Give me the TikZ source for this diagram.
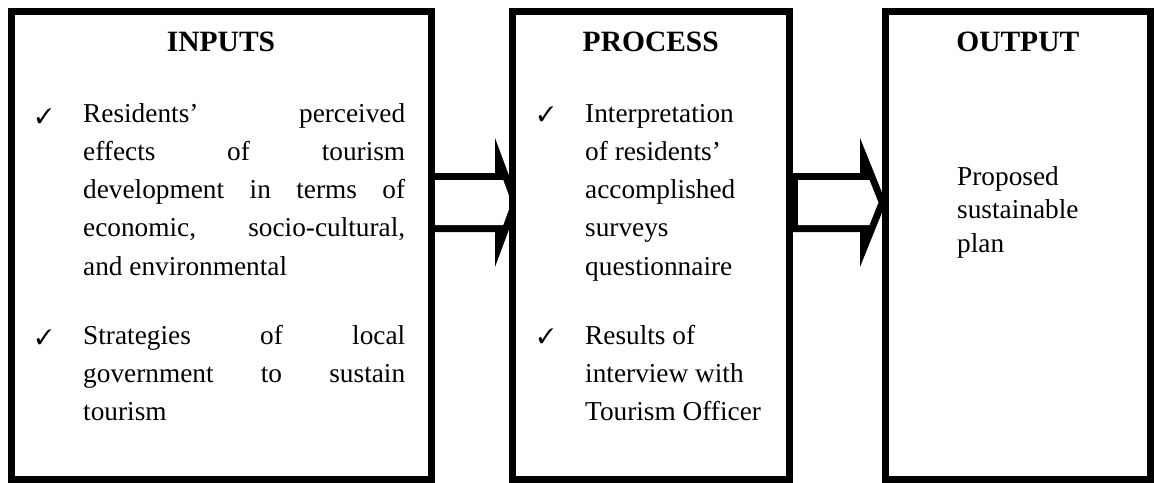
\documentclass[tikz,border=0pt]{standalone}
\usepackage{fontspec}
\usepackage{pifont}
\setmainfont{Liberation Serif}
\usetikzlibrary{calc}
\pgfdeclarelayer{bg}
\pgfsetlayers{bg,main}
\begin{document}
\begin{tikzpicture}[x=1pt,y=-1pt,
  box/.style={draw=black, line width=7pt, fill=white, inner sep=0pt, outer sep=0pt, minimum height=468pt},
  head/.style={font=\fontsize{29.5}{35}\selectfont\bfseries, anchor=base, inner sep=0pt},
  body/.style={font=\fontsize{27.3}{38.3}\selectfont, anchor=base west, inner sep=0pt},
  outtext/.style={font=\fontsize{27.3}{33.5}\selectfont, anchor=base west, inner sep=0pt},
  tick/.style={font=\fontsize{21}{21}\selectfont, anchor=base west, inner sep=0pt}]
\useasboundingbox (0,0) rectangle (1155,482);

% boxes
\node[box, minimum width=420pt] (inputs) at (221,245) {};
\node[box, minimum width=277.5pt] (process) at (650.75,245) {};
\node[box, minimum width=265.5pt] (output) at (1017.75,245) {};

% block arrows (behind the boxes)
\begin{pgfonlayer}{bg}
\fill[black] (inputs.east |- 0,173) -- (495,173) -- (495,138) -- (519,202.5)
  -- (495,267) -- (495,232) -- (inputs.east |- 0,232) -- cycle;
\fill[white] (inputs.east |- 0,180) -- (503.2,180) -- (511.5,202.5)
  -- (503.2,225) -- (inputs.east |- 0,225) -- cycle;
\fill[black] (process.east |- 0,173) -- (860,173) -- (860,138) -- (886,202.5)
  -- (860,267) -- (860,232) -- (process.east |- 0,232) -- cycle;
\fill[white] ([xshift=8.5pt]process.east |- 0,180) -- (869.4,180) -- (878.4,202.5)
  -- (869.4,225) -- ([xshift=8.5pt]process.east |- 0,225) -- cycle;
\end{pgfonlayer}

% headings
\node[head] (hin) at (inputs.center |- 0,51) {INPUTS};
\node[head] (hpr) at (process.center |- 0,51) {PROCESS};
\node[head] (hout) at (output.center |- 0,51) {OUTPUT};

% inputs
\node[tick] (ti1) at (36,123) {\ding{51}};
\node[body] (in1) at (83,122) {\parbox[t]{322pt}{%
  \makebox[\linewidth][s]{Residents’ perceived}\\
  \makebox[\linewidth][s]{effects of tourism}\\
  \makebox[\linewidth][s]{development in terms of}\\
  \makebox[\linewidth][s]{economic, socio-cultural,}\\
  and environmental}};
\node[tick] (ti2) at (36,344) {\ding{51}};
\node[body] (in2) at (83,344) {\parbox[t]{322pt}{%
  \makebox[\linewidth][s]{Strategies of local}\\
  \makebox[\linewidth][s]{government to sustain}\\
  tourism}};

% process
\node[tick] (tp1) at (538,121) {\ding{51}};
\node[body] (pr1) at (585,122) {\parbox[t]{200pt}{%
  Interpretation\\ of residents’\\ accomplished\\ surveys\\ questionnaire}};
\node[tick] (tp2) at (538,343) {\ding{51}};
\node[body] (pr2) at (585,344) {\parbox[t]{200pt}{%
  Results of\\ interview with\\ Tourism Officer}};

% output
\node[outtext] (out1) at (957,185) {\parbox[t]{180pt}{%
  Proposed\\ sustainable\\ plan}};
\end{tikzpicture}
\end{document}
